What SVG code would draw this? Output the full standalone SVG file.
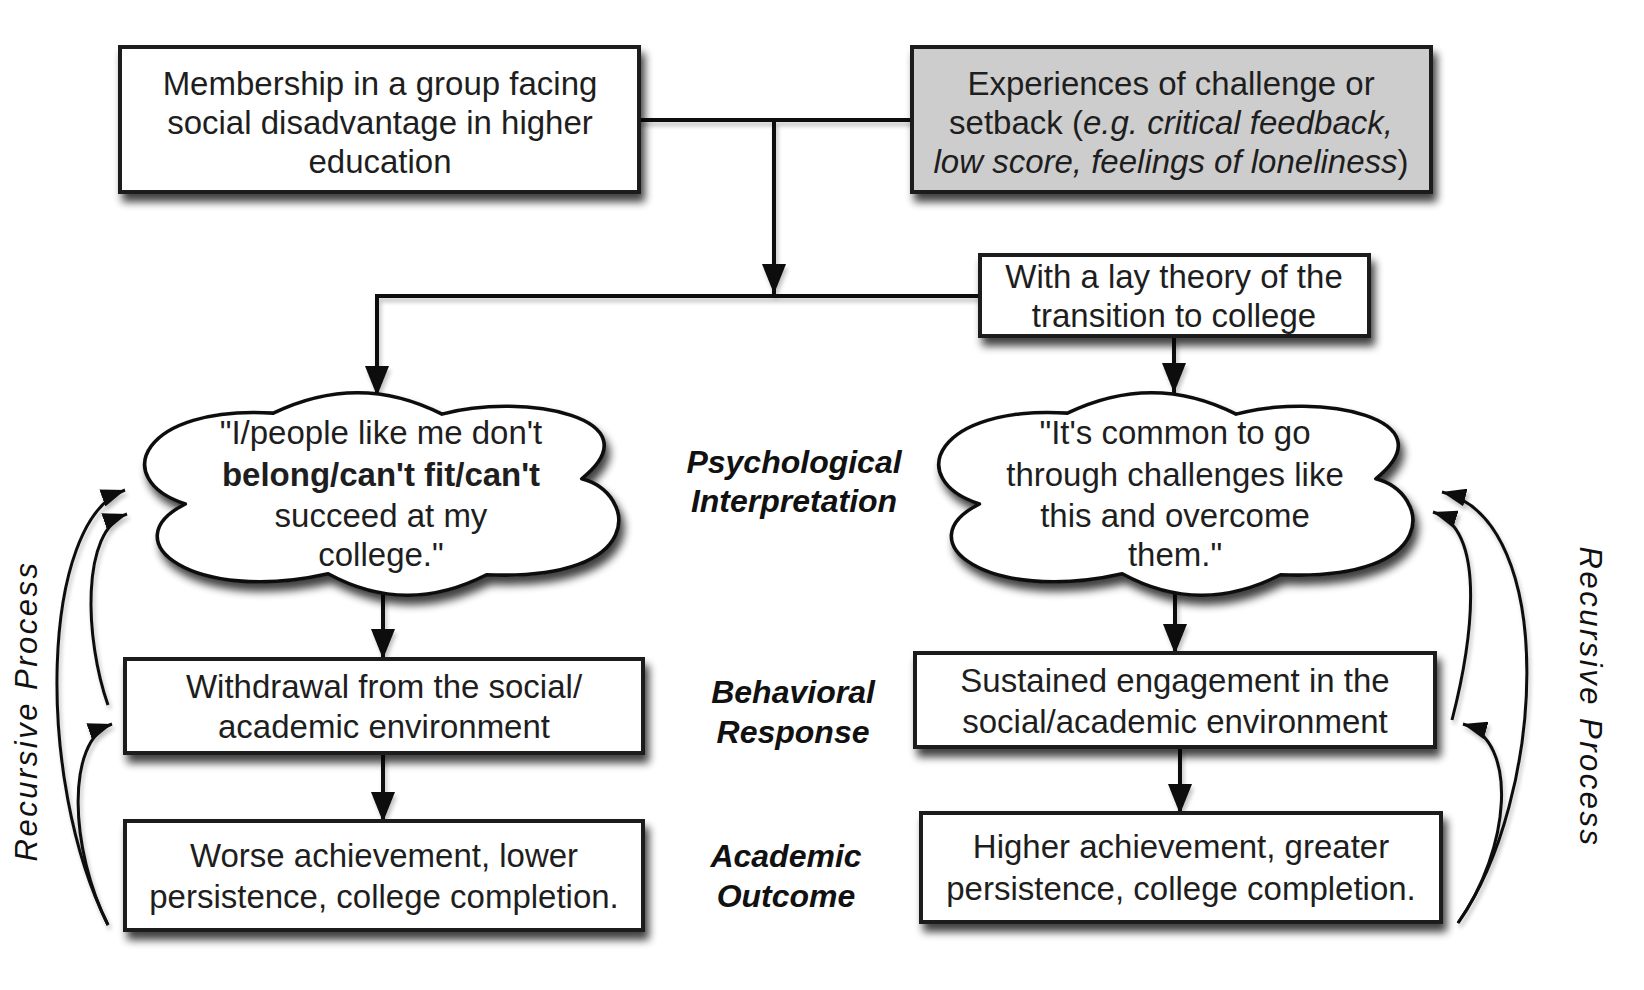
<svg xmlns="http://www.w3.org/2000/svg" width="1644" height="990" viewBox="0 0 1644 990">
<style>
.box{fill:#fff;stroke:#1e1e1e;stroke-width:4}
.grey{fill:#cdcdcd}
.cloud{fill:#fff;stroke:#111;stroke-width:3.5;stroke-linejoin:round}
.t{font-family:"Liberation Sans",Arial,sans-serif;font-size:33px;fill:#1e1e1e;text-anchor:middle}
.lab{font-family:"Liberation Sans",Arial,sans-serif;font-size:32px;font-weight:bold;font-style:italic;fill:#111;text-anchor:middle}
.rec{font-family:"Liberation Sans",Arial,sans-serif;font-size:31px;font-style:italic;fill:#111;text-anchor:middle;letter-spacing:2.5px}
.ln{fill:none;stroke:#111;stroke-width:4}
.rc{fill:none;stroke:#111;stroke-width:3}
</style>
<defs>
<filter id="sh" x="-10%" y="-15%" width="125%" height="150%">
<feGaussianBlur in="SourceAlpha" stdDeviation="4"/>
<feOffset dx="4" dy="8"/>
<feComponentTransfer><feFuncA type="linear" slope="0.75"/></feComponentTransfer>
<feMerge><feMergeNode/><feMergeNode in="SourceGraphic"/></feMerge>
</filter>
<filter id="lsh" x="-20%" y="-20%" width="140%" height="140%">
<feGaussianBlur in="SourceAlpha" stdDeviation="2"/>
<feOffset dx="2" dy="4"/>
<feComponentTransfer><feFuncA type="linear" slope="0.25"/></feComponentTransfer>
<feMerge><feMergeNode/><feMergeNode in="SourceGraphic"/></feMerge>
</filter>
<marker id="ah" markerUnits="userSpaceOnUse" markerWidth="30" markerHeight="24" refX="30" refY="12" orient="auto">
<path d="M0,0 L30,12 L0,24 Z" fill="#111"/>
</marker>
<marker id="as" markerUnits="userSpaceOnUse" markerWidth="24" markerHeight="18" refX="24" refY="9" orient="auto">
<path d="M0,0 L24,9 L0,18 Z" fill="#111"/>
</marker>
<path id="cloudshape" d="M277 413 Q360 372 440 414 C520 392 648 418 575 478 C628 492 640 580 483 573 Q405 614 330 572 C200 602 120 540 192 503 C118 478 150 405 277 413 Z"/>
</defs>
<rect width="1644" height="990" fill="#fff"/>

<g id="connectors" filter="url(#lsh)">
<path class="ln" d="M639 120 H912"/>
<path class="ln" d="M774 120 V294" marker-end="url(#ah)"/>
<path class="ln" d="M980 296 H377 V396" marker-end="url(#ah)"/>
<path class="ln" d="M1174 336 V393" marker-end="url(#ah)"/>
<path class="ln" d="M383 593 V659" marker-end="url(#ah)"/>
<path class="ln" d="M383 753 V822" marker-end="url(#ah)"/>
<path class="ln" d="M1175 593 V654" marker-end="url(#ah)"/>
<path class="ln" d="M1180 747 V814" marker-end="url(#ah)"/>
<path class="rc" d="M108 925 C35 780 40 520 125 490" marker-end="url(#as)"/>
<path class="rc" d="M108 705 C85 640 80 530 127 514" marker-end="url(#as)"/>
<path class="rc" d="M108 925 C70 850 65 740 112 724" marker-end="url(#as)"/>
<path class="rc" d="M1458 923 C1545 800 1560 520 1442 492" marker-end="url(#as)"/>
<path class="rc" d="M1452 720 C1470 650 1490 530 1433 512" marker-end="url(#as)"/>
<path class="rc" d="M1458 923 C1510 850 1520 740 1463 724" marker-end="url(#as)"/>
</g>

<g id="membership">
<rect class="box" x="120" y="47" width="519" height="145" filter="url(#sh)"/>
<text class="t" x="380" y="95">Membership in a group facing</text>
<text class="t" x="380" y="134">social disadvantage in higher</text>
<text class="t" x="380" y="173">education</text>
</g>

<g id="experiences">
<rect class="box grey" x="912" y="47" width="519" height="145" filter="url(#sh)"/>
<text class="t" x="1171" y="95">Experiences of challenge or</text>
<text class="t" x="1171" y="134">setback (<tspan font-style="italic">e.g. critical feedback,</tspan></text>
<text class="t" x="1171" y="173"><tspan font-style="italic">low score, feelings of loneliness</tspan>)</text>
</g>

<g id="laytheory">
<rect class="box" x="980" y="255" width="389" height="81" filter="url(#sh)"/>
<text class="t" x="1174" y="288">With a lay theory of the</text>
<text class="t" x="1174" y="327">transition to college</text>
</g>

<g id="cloud-left">
<use href="#cloudshape" class="cloud" transform="matrix(1.035 0 0 1.01 -13.4 -4)" filter="url(#sh)"/>
<text class="t" x="381" y="444">"I/people like me don't</text>
<text class="t" x="381" y="486" font-weight="bold">belong/can't fit/can't</text>
<text class="t" x="381" y="527">succeed at my</text>
<text class="t" x="381" y="566">college."</text>
</g>

<g id="cloud-right">
<use href="#cloudshape" class="cloud" transform="matrix(1.035 0 0 1.01 780.7 -4)" filter="url(#sh)"/>
<text class="t" x="1175" y="444">"It's common to go</text>
<text class="t" x="1175" y="486">through challenges like</text>
<text class="t" x="1175" y="527">this and overcome</text>
<text class="t" x="1175" y="566">them."</text>
</g>

<g id="withdrawal">
<rect class="box" x="125" y="659" width="518" height="94" filter="url(#sh)"/>
<text class="t" x="384" y="698">Withdrawal from the social/</text>
<text class="t" x="384" y="738">academic environment</text>
</g>

<g id="worse">
<rect class="box" x="125" y="821" width="518" height="109" filter="url(#sh)"/>
<text class="t" x="384" y="867">Worse achievement, lower</text>
<text class="t" x="384" y="908">persistence, college completion.</text>
</g>

<g id="sustained">
<rect class="box" x="915" y="653" width="520" height="94" filter="url(#sh)"/>
<text class="t" x="1175" y="692">Sustained engagement in the</text>
<text class="t" x="1175" y="733">social/academic environment</text>
</g>

<g id="higher">
<rect class="box" x="921" y="813" width="520" height="109" filter="url(#sh)"/>
<text class="t" x="1181" y="858">Higher achievement, greater</text>
<text class="t" x="1181" y="900">persistence, college completion.</text>
</g>

<g id="labels">
<text class="lab" x="794" y="473">Psychological</text>
<text class="lab" x="794" y="512">Interpretation</text>
<text class="lab" x="793" y="703">Behavioral</text>
<text class="lab" x="793" y="743">Response</text>
<text class="lab" x="786" y="867">Academic</text>
<text class="lab" x="786" y="907">Outcome</text>
<text class="rec" transform="translate(37,711) rotate(-90)">Recursive Process</text>
<text class="rec" transform="translate(1580,697) rotate(90)">Recursive Process</text>
</g>
</svg>
